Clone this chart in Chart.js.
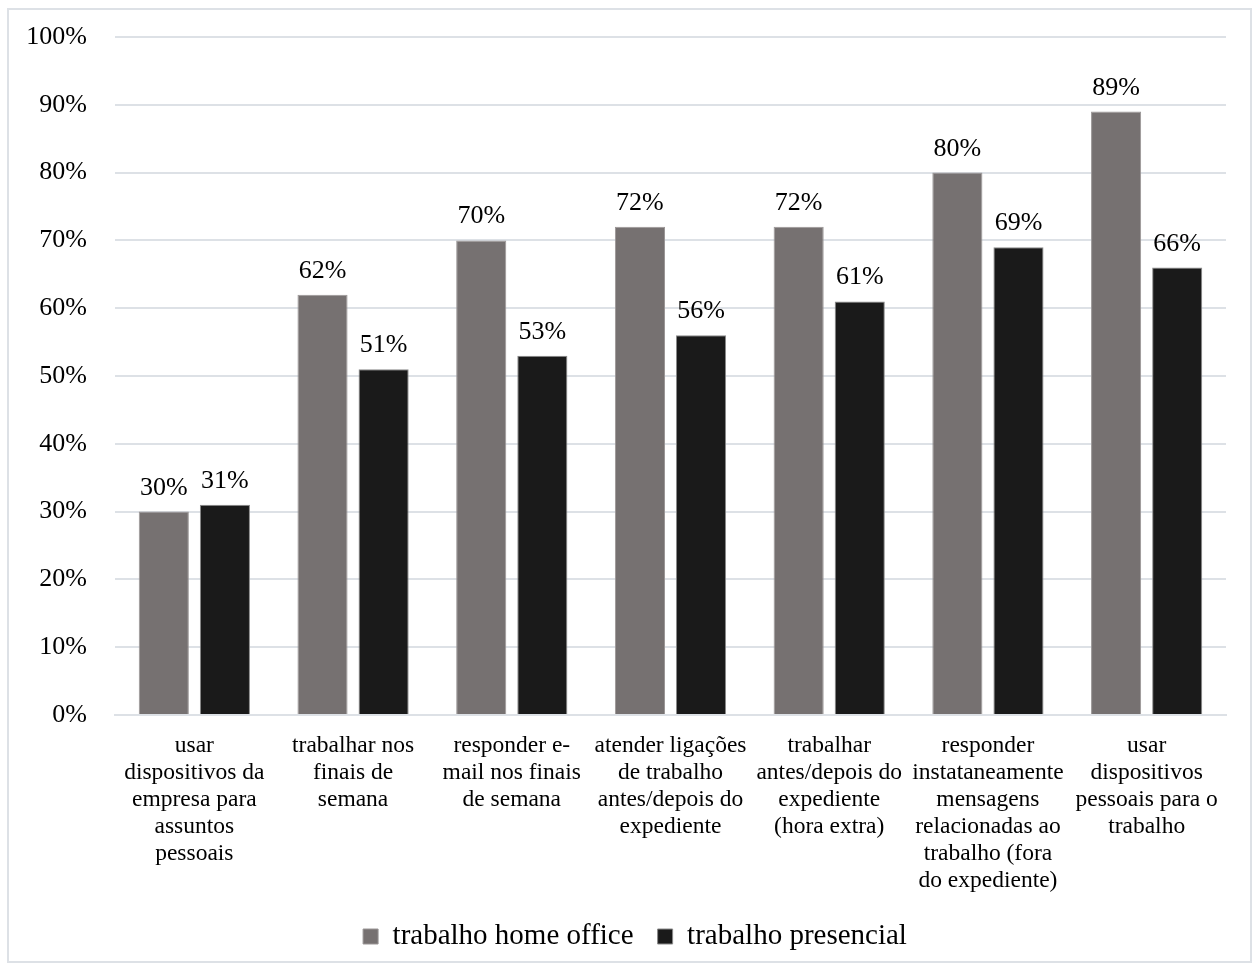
<!DOCTYPE html>
<html>
<head>
<meta charset="utf-8">
<script src="https://cdn.jsdelivr.net/npm/chart.js@4"></script>
<style>
  body { margin: 0; background: #fff; }
  #box { position: absolute; left: 7px; top: 8px; width: 1245px; height: 955px;
         border: 2px solid #dde1e6; box-sizing: border-box; }
</style>
</head>
<body>
<div id="box"><canvas id="grafico"></canvas></div>
<script>
var categorias = [
  ["usar", "dispositivos da", "empresa para", "assuntos", "pessoais"],
  ["trabalhar nos", "finais de", "semana"],
  ["responder e-", "mail nos finais", "de semana"],
  ["atender ligações", "de trabalho", "antes/depois do", "expediente"],
  ["trabalhar", "antes/depois do", "expediente", "(hora extra)"],
  ["responder", "instataneamente", "mensagens", "relacionadas ao", "trabalho (fora", "do expediente)"],
  ["usar", "dispositivos", "pessoais para o", "trabalho"]
];
var homeOffice = [30, 62, 70, 72, 72, 80, 89];
var presencial = [31, 51, 53, 56, 61, 69, 66];
var ticksY = [0, 10, 20, 30, 40, 50, 60, 70, 80, 90, 100];

var fonte = "'Liberation Serif', 'Times New Roman', serif";

// rotulos em cima das barras
var rotulos = {
  id: 'rotulos',
  afterDatasetsDraw: function(chart) {
    var ctx = chart.ctx;
    ctx.save();
    ctx.font = "26px " + fonte;
    ctx.fillStyle = "#000";
    ctx.textAlign = "center";
    ctx.textBaseline = "alphabetic";
    chart.data.datasets.forEach(function(ds, i) {
      chart.getDatasetMeta(i).data.forEach(function(bar, j) {
        ctx.fillText(ds.data[j] + "%", bar.x, bar.y - 17);
      });
    });
    ctx.restore();
  }
};

var grafico = new Chart(document.getElementById("grafico"), {
  type: 'bar',
  data: {
    labels: categorias,
    datasets: [
      {
        label: 'trabalho home office',
        data: homeOffice,
        backgroundColor: '#767171',
        borderColor: '#9a9696',
        borderWidth: 1,
        categoryPercentage: 0.77,
        barPercentage: 0.82
      },
      {
        label: 'trabalho presencial',
        data: presencial,
        backgroundColor: '#1a1a1a',
        borderColor: '#8a8a8a',
        borderWidth: 1,
        categoryPercentage: 0.77,
        barPercentage: 0.82
      }
    ]
  },
  options: {
    responsive: true,
    maintainAspectRatio: false,
    animation: false,
    layout: { padding: { top: 27, right: 0, left: 11, bottom: 0 } },
    plugins: {
      tooltip: { enabled: false },
      legend: {
        position: 'bottom',
        labels: {
          color: '#000',
          font: { family: fonte, size: 29 },
          boxWidth: 15,
          boxHeight: 15,
          padding: 24
        }
      }
    },
    scales: {
      x: {
        grid: { display: false },
        border: { display: true, color: '#dde1e6', width: 2 },
        afterFit: function(s) {
          s.height = 183;
          s.paddingRight = 24;
        },
        ticks: {
          color: '#000',
          font: { family: fonte, size: 23.5, lineHeight: 1.15 },
          maxRotation: 0,
          autoSkip: false,
          padding: 9
        }
      },
      y: {
        min: 0,
        max: 100,
        afterBuildTicks: function(axis) {
          axis.ticks = ticksY.map(function(v) { return { value: v }; });
        },
        afterFit: function(s) {
          s.width = 95;
          s.paddingTop = 0;
          s.paddingBottom = 0;
        },
        grid: { color: '#dde1e6', lineWidth: 2, drawTicks: false },
        border: { display: false },
        ticks: {
          color: '#000',
          font: { family: fonte, size: 26 },
          padding: 28,
          callback: function(v) { return v + "%"; }
        }
      }
    }
  },
  plugins: [rotulos]
});
</script>
</body>
</html>
